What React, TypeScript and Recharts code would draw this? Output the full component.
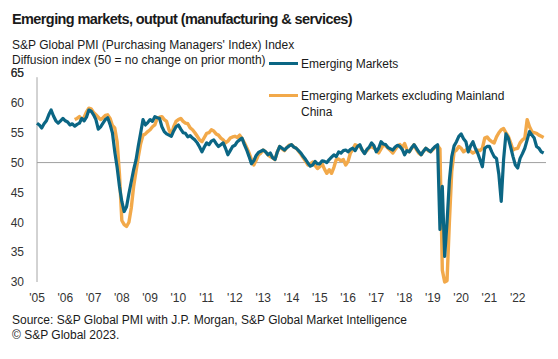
import React from 'react';
import { LineChart, Line, XAxis, YAxis, ReferenceLine } from 'recharts';

// Year tick labels (one every 12 monthly observations)
const yearLabels = ["'05", "'06", "'07", "'08", "'09", "'10", "'11", "'12", "'13", "'14", "'15", "'16", "'17", "'18", "'19", "'20", "'21", "'22"];

// Emerging Markets composite output index (monthly)
const emergingMarkets = [
  56.6, 56.3, 55.8, 56.5, 57.0, 58.0, 58.8, 57.8, 57.0, 56.6, 57.0, 57.4,
  57.0, 56.8, 56.3, 56.5, 56.1, 56.4, 56.6, 57.4, 57.0, 57.6, 58.8, 58.6,
  58.0, 57.2, 55.6, 56.0, 56.6, 57.2, 57.5, 56.4, 55.0, 51.8, 49.2, 46.0,
  43.5, 41.8, 42.6, 44.8, 46.8, 48.8, 50.4, 52.8, 55.0, 57.2, 56.3, 56.7,
  57.2, 56.9, 57.7, 57.5, 57.4, 56.0, 55.2, 54.8, 54.6, 54.4, 55.3, 56.0,
  56.3, 55.6, 55.0, 54.9, 54.3, 54.5, 54.1, 53.8, 53.3, 52.6, 51.8, 52.6,
  53.3, 53.0, 53.6, 53.8, 53.2, 52.7, 53.0, 53.3, 52.4, 51.3, 52.0, 52.7,
  52.9, 53.5, 53.8, 54.1, 53.0, 52.1, 51.0, 49.8, 50.3, 51.2, 51.7, 51.9,
  52.1, 51.8, 51.3, 51.6, 50.8, 50.5, 51.8, 52.7, 52.4, 52.1, 52.5, 52.8,
  53.0, 52.6, 52.4, 52.0, 51.6, 51.0, 50.5, 49.9, 49.4, 49.6, 50.2, 49.8,
  49.8, 50.3, 50.2, 50.0, 50.5, 50.9, 51.3, 51.0, 51.8, 51.6, 52.0, 52.1,
  51.8, 52.2, 52.4, 52.0, 52.7, 53.0, 52.1, 51.5, 52.2, 52.6, 53.3, 52.8,
  51.8, 52.4, 53.5, 53.1, 53.0, 52.5, 52.3, 52.1, 52.6, 52.9, 52.7, 52.2,
  51.3, 52.0, 51.8, 52.5, 53.0, 52.4, 51.8, 51.3, 51.9, 52.4, 52.1, 51.8,
  52.3, 52.7, 53.0, 38.8, 46.0, 34.3, 40.0, 47.0, 51.0, 52.8, 53.5, 54.4,
  54.8, 54.0, 53.5, 51.8, 52.8, 53.5, 52.4, 51.6, 50.5, 49.3, 52.4, 52.7,
  52.7, 51.8, 51.0, 50.7, 48.0, 43.5, 50.5, 54.8, 54.1, 52.6, 51.0, 49.6,
  49.1, 50.7, 51.5, 52.4, 53.8, 55.2, 54.6, 54.1, 52.7, 52.4, 51.8, 51.6,
];

// Emerging Markets excluding Mainland China (series begins later)
const exChinaStartIndex = 16;
const emExChinaValues = [
  57.2, 57.4, 57.7, 57.2, 57.6, 58.5, 59.1, 59.0,
  58.4, 58.0, 57.6, 57.2, 57.5, 57.9, 58.0, 57.4, 56.2, 55.8, 53.5, 48.0,
  40.3, 39.6, 39.3, 40.0, 42.4, 46.0, 48.5, 51.0, 53.2, 54.6, 54.8, 55.2,
  55.5, 56.0, 56.3, 57.4, 57.6, 57.7, 57.2, 56.9, 55.5, 54.6, 56.0, 56.9,
  57.2, 57.4, 56.9, 56.6, 56.5, 55.8, 55.5, 55.0, 54.4, 53.8, 53.5, 54.2,
  54.9, 55.0, 55.5, 55.3, 54.8, 54.6, 54.1, 53.8, 53.3, 53.6, 54.1, 54.3,
  54.4, 54.2, 54.6, 54.0, 53.3, 52.5, 51.6, 50.5, 49.6, 50.4, 51.3, 51.6,
  52.1, 51.8, 51.3, 51.0, 50.8, 50.5, 51.8, 52.7, 52.3, 52.0, 52.5, 52.9,
  53.0, 52.6, 52.4, 51.9, 51.4, 50.8, 50.2, 49.6, 49.8, 50.1, 49.5, 49.0,
  49.3, 49.8, 48.9, 48.2, 48.8, 48.2, 49.2, 50.5, 50.6, 50.3, 50.5, 49.6,
  50.2, 51.6, 52.2, 53.0, 52.8, 52.7, 52.1, 51.6, 52.0, 52.5, 52.7, 52.4,
  52.1, 51.6, 52.3, 53.0, 52.8, 52.4, 52.0, 51.6, 52.2, 52.7, 53.0, 52.5,
  53.2, 52.1, 51.8, 52.4, 53.0, 52.2, 51.6, 51.3, 51.9, 52.4, 52.0, 51.8,
  52.2, 52.6, 52.8, 52.3, 32.0, 30.0, 30.2, 40.0, 48.5, 51.8, 52.1, 52.7,
  52.4, 51.8, 52.1, 52.4, 51.9, 51.6, 51.8, 52.1, 52.0, 52.4, 54.1, 54.3,
  53.8, 53.5, 53.3, 54.3, 55.0, 55.5, 55.7, 55.0, 54.4, 53.3, 52.1, 52.3,
  52.4, 53.3, 53.8, 54.1, 57.2, 56.0, 55.2, 55.0, 54.9, 54.6, 54.4, 54.2,
];

const yTicks = [30, 35, 40, 45, 50, 55, 60, 65];
const yTop = 65;

const TEAL = '#0b6684';
const ORANGE = '#f2a94a';
const FONT = '"Liberation Sans", Arial, sans-serif';

const data = emergingMarkets.map((v, i) => ({
  i,
  em: v,
  ex: i >= exChinaStartIndex ? emExChinaValues[i - exChinaStartIndex] : null,
}));

const xTicks = yearLabels.map((_, k) => k * 12);

const txt = (top: number, left: number, size: number, content: string, bold = false, spacing = 0): React.ReactNode => (
  <div
    style={{
      position: 'absolute',
      top,
      left,
      fontSize: size,
      lineHeight: 1,
      fontWeight: bold ? 700 : 400,
      letterSpacing: spacing,
      color: '#1a1a1a',
      whiteSpace: 'nowrap',
      fontFamily: FONT,
    }}
  >
    {content}
  </div>
);

const TopTickLabel = (props: any) => {
  const vb = props.viewBox || {};
  return (
    <text x={(vb.x ?? 37) - 13} y={vb.y ?? 73} dy="0.355em" textAnchor="end" fontSize={12} fill="#333" fontFamily={FONT}>
      {String(yTop)}
    </text>
  );
};

export default function App() {
  return (
    <div style={{ position: 'absolute', left: 0, top: 0, width: 558, height: 359, background: '#fff', fontFamily: FONT }}>
      <div style={{ position: 'absolute', left: 0, top: 0 }}>
        <LineChart width={558} height={359} data={data} margin={{ top: 60, right: 12, bottom: 57, left: 7 }}>
          <XAxis
            dataKey="i"
            type="number"
            domain={[0, 216]}
            ticks={xTicks}
            tickFormatter={(v: number) => yearLabels[Math.round(v / 12)]}
            axisLine={false}
            tickLine={false}
            tickSize={0}
            tickMargin={11}
            height={20}
            interval={0}
            tick={{ fontSize: 12, fill: '#333', fontFamily: FONT }}
          />
          <YAxis
            type="number"
            domain={[30, 67.18]}
            ticks={yTicks}
            width={30}
            axisLine={false}
            tickLine={false}
            tickSize={0}
            tickMargin={13}
            interval={0}
            tick={{ fontSize: 12, fill: '#333', fontFamily: FONT }}
          />
          <ReferenceLine
            segment={[{ x: 0, y: 30 }, { x: 0, y: 64.3 }]}
            stroke="#a6a6a6"
            strokeWidth={1}
          />
          <ReferenceLine y={yTop} stroke="none" strokeOpacity={0} label={<TopTickLabel />} />
          <ReferenceLine y={50} stroke="#a0a0a0" strokeWidth={1} />
          <Line
            type="linear"
            dataKey="ex"
            stroke={ORANGE}
            strokeWidth={3.4}
            dot={false}
            isAnimationActive={false}
            strokeLinejoin="round"
          />
          <Line
            type="linear"
            dataKey="em"
            stroke={TEAL}
            strokeWidth={3.2}
            dot={false}
            isAnimationActive={false}
            strokeLinejoin="round"
          />
        </LineChart>
      </div>
      {txt(12, 12, 14.5, 'Emerging markets, output (manufacturing & services)', true, -0.6)}
      {txt(39, 12, 12, "S&P Global PMI (Purchasing Managers' Index) Index")}
      {txt(54, 12, 12, 'Diffusion index (50 = no change on prior month)')}
      <div style={{ position: 'absolute', left: 269, top: 62, width: 29, height: 3, background: TEAL }} />
      {txt(58, 301, 12, 'Emerging Markets')}
      <div style={{ position: 'absolute', left: 269, top: 94, width: 29, height: 3, background: ORANGE }} />
      {txt(90, 301, 12, 'Emerging Markets excluding Mainland')}
      {txt(106, 301, 12, 'China')}
      {txt(314, 12, 12, 'Source: S&P Global PMI with J.P. Morgan, S&P Global Market Intelligence')}
      {txt(329, 12, 12, '\u00A9 S&P Global 2023.')}
    </div>
  );
}
